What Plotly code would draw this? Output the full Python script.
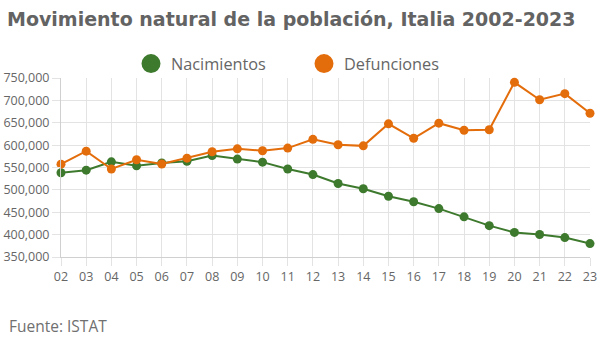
import plotly.graph_objects as go

years = list(range(2002, 2024))
tick_labels = [f"{y % 100:02d}" for y in years]
nacimientos = [538198, 544063, 562599, 554022, 560010, 563933, 576659, 568857,
               561944, 546607, 534186, 514308, 502596, 485780, 473438, 458151,
               439747, 420084, 404892, 400249, 393333, 379890]
defunciones = [557393, 586468, 546658, 567304, 557892, 570801, 585126, 591663,
               587488, 593402, 612883, 600744, 598364, 647571, 615261, 649061,
               633133, 634417, 740317, 701346, 715077, 671170]

GREEN = "#3d7a2d"
ORANGE = "#e46d0b"
GRID = "#e3e3e3"
TEXT = "#666666"
FONT = "Open Sans"

L, R, T, B = 61, 10, 78, 103
PW, PH = 600 - L - R, 360 - T - B

fig = go.Figure()
for name, vals, col in [("Nacimientos", nacimientos, GREEN), ("Defunciones", defunciones, ORANGE)]:
    fig.add_trace(go.Scatter(
        x=years, y=vals, mode="lines+markers", name=name,
        line=dict(color=col, width=2),
        marker=dict(color=col, size=9),
        cliponaxis=False, showlegend=False,
    ))
    # legend-only entry (circle symbol without line)
    fig.add_trace(go.Scatter(
        x=[None], y=[None], mode="markers", name=name,
        marker=dict(color=col, size=16, line=dict(color=col, width=3)),
        showlegend=True, hoverinfo="skip",
    ))

fig.update_layout(
    width=600, height=360,
    margin=dict(l=L, r=R, t=T, b=B, autoexpand=False),
    paper_bgcolor="white", plot_bgcolor="white",
    font=dict(family=FONT, color=TEXT, size=12),
    title=dict(
        text="<b>Movimiento natural de la población, Italia 2002-2023</b>",
        x=7 / 600, xref="container", xanchor="left",
        y=1 - 19 / 360, yref="container", yanchor="middle",
        font=dict(family="DejaVu Sans", size=19, color="#636363"),
    ),
    legend=dict(
        orientation="h", x=(131 - L) / PW, xanchor="left",
        y=1 + (T - 64) / PH, yanchor="middle",
        entrywidth=128, entrywidthmode="pixels",
        font=dict(family=FONT, size=16.3, color=TEXT),
        bgcolor="rgba(0,0,0,0)",
    ),
    showlegend=True,
    xaxis=dict(
        range=[2002, 2023], tickvals=years, ticktext=tick_labels,
        showgrid=True, gridcolor=GRID, gridwidth=1,
        ticks="outside", ticklen=8, tickcolor=GRID,
        showline=True, linecolor="#d0d0d0", linewidth=1,
        zeroline=False, tickfont=dict(size=12.5, color=TEXT), automargin=False,
    ),
    yaxis=dict(
        range=[350000, 750000], dtick=50000, tickformat=",",
        showgrid=True, gridcolor=GRID, gridwidth=1,
        ticks="outside", ticklen=8, tickcolor=GRID,
        showline=True, linecolor="#d0d0d0", linewidth=1,
        zeroline=False, tickfont=dict(size=12.5, color=TEXT), automargin=False,
    ),
    annotations=[dict(
        text="Fuente: ISTAT", xref="paper", yref="paper",
        x=(7 - L) / PW, xanchor="left", y=-(326 - (360 - B)) / PH, yanchor="middle",
        showarrow=False, font=dict(family=FONT, size=15.5, color="#707070"),
    )],
)

fig.write_html(
    "out.html",
    config={"displayModeBar": False},
    post_script="document.body.style.margin='0';document.body.style.overflow='hidden';",
)
